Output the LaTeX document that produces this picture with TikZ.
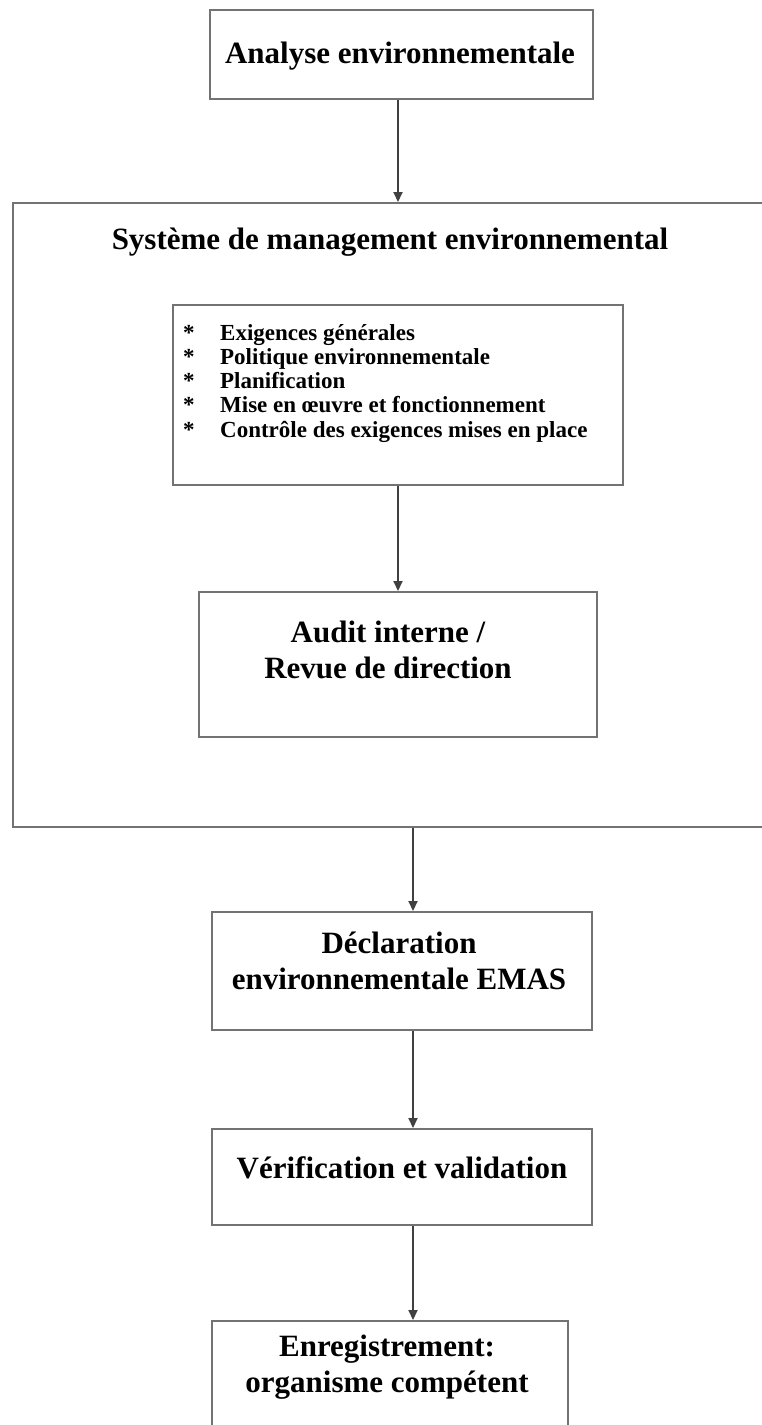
\documentclass[tikz,border=0pt]{standalone}
\usepackage{fontspec}
\setmainfont{Liberation Serif}
\usetikzlibrary{arrows.meta,positioning}

\tikzset{
  boite/.style={draw=black!55, line width=2pt, fill=white, inner sep=0pt},
  titre/.style={font=\bfseries\fontsize{31}{36}\selectfont, align=center, inner sep=0pt},
  liste/.style={font=\bfseries\fontsize{23}{24.4}\selectfont, inner sep=0pt},
  fleche/.style={draw=black!75, line width=2pt, -{Triangle[length=10pt,width=9pt]}},
}

\begin{document}
\begin{tikzpicture}[x=1pt,y=-1pt]
  \useasboundingbox (0,0) rectangle (761,1425);

  % Boxes
  \node[boite, minimum width=762pt, minimum height=624pt] (sme) at (394,515) {};
  \node[boite, minimum width=383pt, minimum height=89pt] (analyse) at (401.5,54.5) {};
  \node[boite, minimum width=450pt, minimum height=180pt] (liste) at (398,395) {};
  \node[boite, minimum width=398pt, minimum height=145pt] (audit) at (398,664.5) {};
  \node[boite, minimum width=380pt, minimum height=118pt] (decl) at (402,971) {};
  \node[boite, minimum width=380pt, minimum height=96pt] (verif) at (402,1177) {};
  \node[boite, minimum width=356pt, minimum height=119pt] (enreg) at (390,1380.5) {};

  % Texts (base = last line)
  \node[titre, anchor=base] (analyse-t) at (400,63) {Analyse environnementale};
  \node[titre, anchor=base] (sme-t) at (390,249) {Système de management environnemental};
  \foreach \t [count=\i] in {Exigences générales, Politique environnementale, Planification,
      Mise en œuvre et fonctionnement, Contrôle des exigences mises en place}
    \node[liste, anchor=base west] (item\i) at (220,{340+24.3*(\i-1)})
      {\llap{\makebox[37pt][l]{*}}\t};
  \node[titre, anchor=base] (audit-t) at (388,678) {Audit interne /\\Revue de direction};
  \node[titre, anchor=base] (decl-t) at (399,989) {Déclaration\\environnementale EMAS};
  \node[titre, anchor=base] (verif-t) at (402,1178) {Vérification et validation};
  \node[titre, anchor=base] (enreg-t) at (387,1392) {Enregistrement:\\organisme compétent};

  % Arrows
  \coordinate (axe1) at (398,0);
  \coordinate (axe2) at (413,0);
  \draw[fleche] (analyse.south -| axe1) -- (sme.north -| axe1);
  \draw[fleche] (liste.south -| axe1) -- (audit.north -| axe1);
  \draw[fleche] (sme.south -| axe2) -- (decl.north -| axe2);
  \draw[fleche] (decl.south -| axe2) -- (verif.north -| axe2);
  \draw[fleche] (verif.south -| axe2) -- (enreg.north -| axe2);

\end{tikzpicture}
\end{document}
